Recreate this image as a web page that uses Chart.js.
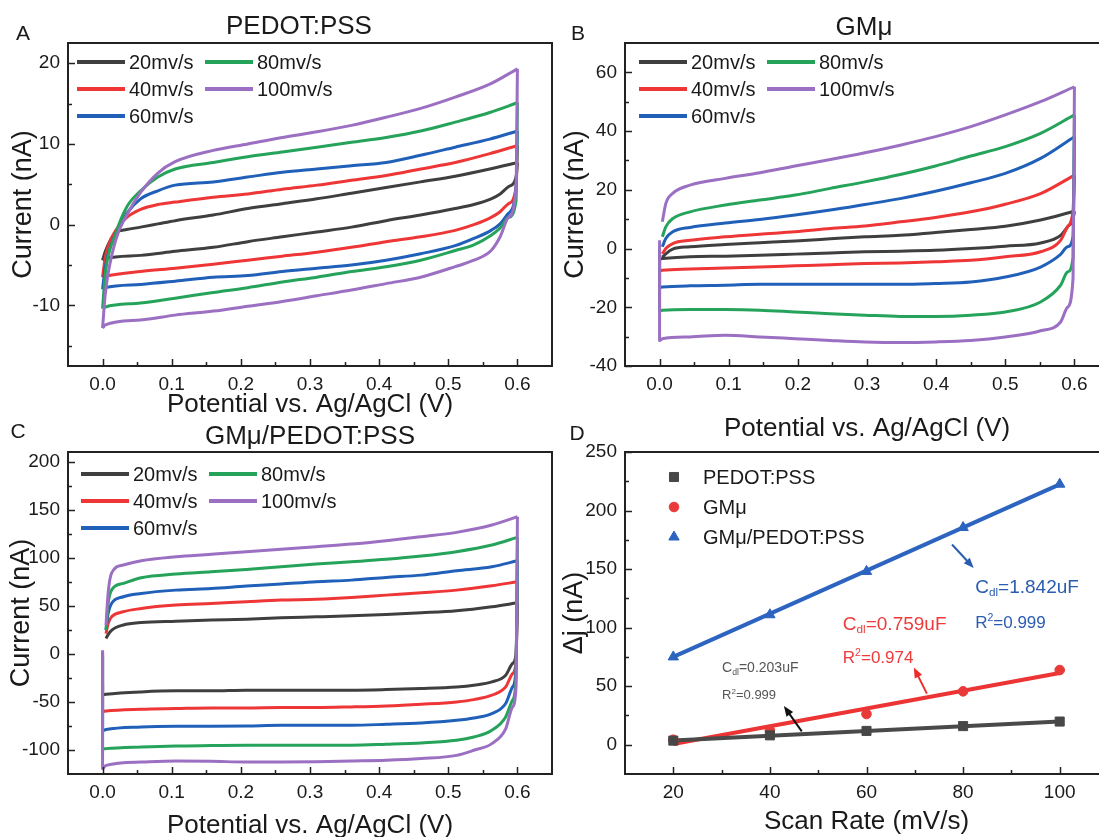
<!DOCTYPE html>
<html>
<head>
<meta charset="utf-8">
<script src="https://cdn.jsdelivr.net/npm/chart.js@4.4.1/dist/chart.umd.min.js"></script>
<style>
  html, body { margin: 0; padding: 0; background: #fff; width: 1099px; height: 837px; overflow: hidden; }
  body { position: relative; font-family: 'Liberation Sans', Arial, sans-serif; color: #1a1a1a; }
  canvas { position: absolute; }
  .t { position: absolute; transform: translate(-50%, -50%); line-height: 1; white-space: nowrap; }
</style>
</head>
<body>
<canvas id="cvA"></canvas>
<canvas id="cvB"></canvas>
<canvas id="cvC"></canvas>
<canvas id="cvD"></canvas>

<div class="t" style="left:23px;top:32px;font-size:21px">A</div>
<div class="t" style="left:578px;top:32px;font-size:21px">B</div>
<div class="t" style="left:18px;top:430px;font-size:21px">C</div>
<div class="t" style="left:577px;top:432px;font-size:21px">D</div>
<div class="t" style="left:299px;top:25px;font-size:26px">PEDOT:PSS</div>
<div class="t" style="left:864px;top:26px;font-size:26px">GMμ</div>
<div class="t" style="left:310px;top:435px;font-size:26px">GMμ/PEDOT:PSS</div>

<script>
const FONT = "'Liberation Sans', Arial, sans-serif";
const INK = '#1a1a1a';

// scan rates shared by the three CV panels
const rates = ['20mv/s', '40mv/s', '60mv/s', '80mv/s', '100mv/s'];
const cvColors = ['#3f3f3f', '#ee3636', '#2060b8', '#25a35a', '#9b6fc2'];

// A: PEDOT:PSS, forward (anodic) and reverse sweeps, current in nA
const pedotFwdV = [0, 0.004, 0.019, 0.035, 0.055, 0.08, 0.105, 0.16, 0.21, 0.26, 0.31, 0.36, 0.41, 0.46, 0.51, 0.56, 0.6];
const pedotFwd = [
  [-4.4, -3.3, -1.0, -0.6, -0.3, 0.1, 0.5, 1.2, 2.0, 2.6, 3.2, 3.9, 4.6, 5.3, 6.0, 6.9, 7.7],
  [-6.5, -4.0, -0.7, 0.9, 1.9, 2.5, 2.8, 3.4, 3.8, 4.4, 4.9, 5.5, 6.1, 6.9, 7.7, 8.8, 9.8],
  [-8.0, -5.2, -1.1, 1.4, 3.2, 4.2, 4.9, 5.3, 5.9, 6.5, 6.9, 7.3, 7.7, 8.6, 9.6, 10.6, 11.6],
  [-10.4, -6.0, -1.1, 2.2, 4.2, 5.9, 6.9, 7.7, 8.4, 9.0, 9.6, 10.2, 10.8, 11.6, 12.7, 13.9, 15.1],
  [-12.8, -8.5, -1.9, 1.2, 4.0, 6.4, 7.8, 9.2, 10.0, 10.8, 11.5, 12.3, 13.3, 14.4, 15.8, 17.4, 19.3]
];
const pedotRevV = [0.6, 0.598, 0.587, 0.575, 0.562, 0.537, 0.51, 0.46, 0.41, 0.36, 0.31, 0.26, 0.21, 0.16, 0.105, 0.055, 0.004, 0];
const pedotRev = [
  [7.7, 5.9, 4.7, 3.8, 3.2, 2.5, 2.0, 1.2, 0.5, -0.3, -0.9, -1.5, -2.1, -2.8, -3.3, -3.8, -4.2, -4.4],
  [9.8, 4.6, 2.6, 1.6, 0.9, 0.0, -0.7, -1.5, -2.1, -2.8, -3.4, -3.9, -4.4, -4.9, -5.4, -5.8, -6.4, -6.5],
  [11.6, 4.6, 1.4, 0.1, -0.7, -1.7, -2.6, -3.6, -4.4, -5.0, -5.4, -5.8, -6.3, -6.5, -7.0, -7.4, -7.8, -8.0],
  [15.1, 3.0, 0.9, -0.4, -1.3, -2.5, -3.2, -4.4, -5.2, -5.8, -6.5, -7.1, -7.8, -8.4, -9.1, -9.7, -10.2, -10.4],
  [19.3, 4.6, 0.9, -1.5, -3.2, -4.4, -5.2, -6.5, -7.3, -8.1, -8.8, -9.5, -10.1, -10.7, -11.2, -11.8, -12.4, -12.8]
];

// B: GMμ
const gmFwdV = [0.004, 0.009, 0.019, 0.044, 0.095, 0.145, 0.196, 0.247, 0.297, 0.348, 0.399, 0.45, 0.5, 0.551, 0.6];
const gmFwd = [
  [-3.0, -1.8, -0.2, 0.6, 1.4, 2.0, 2.6, 3.3, 4.0, 4.5, 5.5, 6.5, 7.6, 9.7, 12.7],
  [-1.8, 0.0, 1.7, 2.8, 4.0, 4.9, 5.7, 6.8, 7.7, 9.1, 10.6, 12.5, 15.1, 18.7, 25.0],
  [0.6, 3.4, 5.7, 7.2, 8.7, 9.9, 11.4, 13.1, 15.0, 17.0, 19.5, 22.4, 25.6, 30.7, 38.1],
  [4.0, 7.4, 10.2, 12.5, 14.8, 16.5, 18.2, 20.5, 22.7, 25.2, 28.1, 31.5, 34.7, 39.2, 45.5],
  [9.1, 15.3, 18.8, 21.6, 23.9, 25.8, 28.1, 30.3, 32.6, 35.2, 38.1, 41.5, 45.5, 50.0, 55.1]
];
const gmRevV = [0.6, 0.598, 0.59, 0.58, 0.551, 0.5, 0.45, 0.399, 0.348, 0.297, 0.247, 0.196, 0.145, 0.095, 0.044, 0.004, 0, 0];
const gmRev = [
  [12.7, 10.0, 7.4, 4.5, 1.9, 0.8, 0.0, -0.6, -0.9, -1.1, -1.5, -1.9, -2.3, -2.6, -2.8, -3.4, -3.5, -3.2],
  [25.0, 13.0, 7.4, 2.8, -1.1, -2.8, -4.0, -4.5, -4.9, -5.1, -5.5, -5.9, -6.3, -6.6, -7.0, -7.4, -7.5, -3.0],
  [38.1, 4.0, 0.6, -2.0, -6.3, -9.7, -11.4, -11.9, -12.2, -12.2, -12.2, -12.2, -12.2, -12.5, -12.7, -13.1, -13.2, -2.0],
  [45.5, -3.0, -8.0, -12.5, -18.2, -21.6, -22.7, -23.1, -23.1, -22.7, -22.2, -21.6, -21.0, -20.8, -20.8, -21.0, -21.2, 0.0],
  [55.1, -10.0, -20.0, -25.0, -28.0, -30.1, -31.3, -31.8, -32.0, -31.8, -31.3, -30.7, -30.1, -29.5, -30.1, -30.7, -31.3, 2.8]
];

// C: GMμ/PEDOT:PSS
const hybFwdV = [0.005, 0.008, 0.013, 0.03, 0.056, 0.106, 0.157, 0.208, 0.258, 0.309, 0.36, 0.41, 0.461, 0.512, 0.563, 0.6];
const hybFwd = [
  [16, 20, 24.5, 30.0, 32.6, 34, 35.1, 36.1, 37.5, 38.5, 39.6, 41, 42.7, 44.8, 49, 53.1],
  [21, 31.6, 38.5, 43.8, 47.2, 50.7, 52.4, 54.2, 55.9, 56.9, 58.7, 61.1, 63.5, 66.3, 70.8, 75],
  [25, 42, 52.4, 59.4, 62.8, 66.3, 68, 70.5, 72.6, 75, 76.7, 79.5, 81.9, 86.5, 90.6, 96.9],
  [25, 52.4, 66.3, 73.3, 79.2, 83, 85.4, 87.8, 90.6, 93.4, 95.8, 98.3, 101.7, 106.3, 113.2, 121.2],
  [30, 62.8, 84, 92.4, 96.9, 101, 103.5, 106.3, 108.7, 111.5, 114.2, 117.7, 121.9, 126.4, 134, 142.7]
];
const hybRevV = [0.6, 0.598, 0.593, 0.583, 0.563, 0.537, 0.512, 0.461, 0.41, 0.36, 0.309, 0.258, 0.208, 0.157, 0.106, 0.056, 0.005, 0, 0];
const hybRev = [
  [53.1, 0, -10, -22.2, -29.2, -32.6, -34.4, -36.1, -37.2, -37.8, -37.8, -37.8, -37.8, -38.5, -38.5, -39.6, -42, -42.5, -30],
  [75, -8, -20.5, -34.4, -43, -47.6, -50, -52.4, -54.2, -55.2, -55.9, -55.9, -56.3, -56.3, -56.9, -57.6, -59.4, -60, 2],
  [96.9, -15, -34.4, -51.7, -62.2, -66.7, -69.1, -71.9, -73.3, -74.3, -74.3, -74.3, -75, -75.3, -75.3, -76, -78.8, -80, -2],
  [121.2, -25, -48, -65.6, -79.5, -86.5, -90, -92.7, -94.1, -95.1, -95.1, -95.1, -95.1, -95.4, -95.8, -96.9, -98.6, -99, 0],
  [142.7, -34, -55, -78, -93.4, -100.3, -105.6, -109, -110.8, -111.5, -112.2, -112.5, -112.5, -111.8, -111.5, -112.5, -116, -119.4, 3.8]
];

// D: current difference vs scan rate, with linear fits
const scanRates = [20, 40, 60, 80, 100];
const djPedot = [3.5, 8.0, 11.8, 15.9, 19.8];
const djGm = [4.3, 12.3, 26.2, 45.6, 63.8];
const djHybrid = [75, 111, 148, 185.5, 222.5];
const fitNames = ['PEDOT:PSS', 'GMμ', 'GMμ/PEDOT:PSS'];
const cdl = [0.203, 0.759, 1.842];        // fitted slope, nA per mV/s
const fitIntercept = [-0.5, -14.6, 38.2];
const rSquared = [0.999, 0.974, 0.999];

// ---- helpers ----
const sweep = (vs, is) => vs.map((v, k) => ({x: v, y: is[k]}));

// canvas sized so the plot box lands at the given page position
function place(canvas, box) {
  const left = box.left - 68, top = box.top - 43;
  const width = box.right + 8 - left;
  const height = Math.round(box.xTitleY + 15.6 - top);
  canvas.width = width; canvas.height = height;
  Object.assign(canvas.style, {left: left + 'px', top: top + 'px', width: width + 'px', height: height + 'px'});
  return {left, top, width, height, xAxisH: height - (box.bottom - top), yPad: box.yTitleX - left - 16.2};
}

function axis(min, max, step, major, fmt, title, fit, pad) {
  const near = (a, b) => Math.abs(a - b) < 1e-6;
  const isMajor = v => near(v / major, Math.round(v / major));
  return {
    type: 'linear', min, max,
    grid: {display: false, drawTicks: false},
    border: {display: false},
    // ticks on every multiple of the step, regardless of where the bounds fall
    afterBuildTicks(s) {
      const out = [];
      for (let k = Math.ceil(min / step - 1e-9); k * step <= max + 1e-9; k++) out.push({value: +(k * step).toFixed(6)});
      s.ticks = out;
    },
    ticks: {
      autoSkip: false, maxRotation: 0, color: INK, padding: pad,
      font: {family: FONT, size: 19},
      callback(v) {
        if (isMajor(v)) return fmt(v);
        if (near(v, min) || near(v, max)) return null;
        return '';
      }
    },
    title: Object.assign({display: true, color: INK, font: {family: FONT, size: 26}}, title),
    afterFit: fit
  };
}

// closed box and inward ticks (long for labelled, short for minor)
const frame = {
  id: 'frame',
  afterDraw(chart) {
    const {ctx, chartArea: a, scales: {x, y}} = chart;
    ctx.save();
    ctx.strokeStyle = '#222';
    ctx.lineWidth = 1.5;
    ctx.beginPath();
    x.ticks.forEach(t => {
      if (t.label === null) return;
      const p = Math.round(x.getPixelForValue(t.value)) + 0.5;
      ctx.moveTo(p, a.bottom); ctx.lineTo(p, a.bottom - (t.label ? 7 : 4));
    });
    y.ticks.forEach(t => {
      if (t.label === null) return;
      const p = Math.round(y.getPixelForValue(t.value)) + 0.5;
      ctx.moveTo(a.left, p); ctx.lineTo(a.left + (t.label ? 7 : 4), p);
    });
    ctx.stroke();
    ctx.lineWidth = 2;
    ctx.strokeRect(a.left, a.top, a.right - a.left, a.bottom - a.top);
    ctx.restore();
  }
};

// two-column line legend inside the plot
const cvLegend = {
  id: 'cvLegend',
  afterDraw(chart, args, opts) {
    const {ctx, chartArea: a} = chart;
    ctx.save();
    ctx.font = '20px ' + FONT;
    ctx.textBaseline = 'middle';
    rates.forEach((r, i) => {
      const x = a.left + opts.x + Math.floor(i / 3) * 128;
      const y = a.top + opts.y + (i % 3) * 27;
      ctx.strokeStyle = cvColors[i];
      ctx.lineWidth = 4;
      ctx.beginPath(); ctx.moveTo(x, y); ctx.lineTo(x + 48, y); ctx.stroke();
      ctx.fillStyle = INK;
      ctx.fillText(r, x + 52, y + 1);
    });
    ctx.restore();
  }
};

function cvPanel(id, box, fwdV, fwd, revV, rev, yMin, yMax, yStep, yMajor, legend) {
  const cv = document.getElementById(id);
  const g = place(cv, box);
  const line = (label, data, i) => ({
    label, data,
    borderColor: cvColors[i],
    borderWidth: 3,
    pointRadius: 0,
    cubicInterpolationMode: 'monotone',
    borderJoinStyle: 'round',
    order: rates.length - i
  });
  return new Chart(cv, {
    type: 'line',
    data: {
      datasets: rates.flatMap((r, i) => [
        line(r + ' forward', sweep(fwdV, fwd[i]), i),
        line(r + ' reverse', sweep(revV, rev[i]), i)
      ])
    },
    options: {
      responsive: false, animation: false, devicePixelRatio: 1,
      layout: {padding: {top: 43, right: 8, left: 0, bottom: 0}},
      scales: {
        x: axis(-0.05, 0.65, 0.05, 0.1, v => v.toFixed(1),
          {text: 'Potential vs. Ag/AgCl (V)', padding: {top: 0, bottom: 0}},
          s => { s.height = g.xAxisH; }, 7),
        y: axis(yMin, yMax, yStep, yMajor, v => String(Math.round(v)),
          {text: 'Current (nA)', font: {family: FONT, size: 27}, padding: {top: g.yPad, bottom: 0}},
          s => { s.width = 68; }, 8)
      },
      plugins: {legend: {display: false}, tooltip: {enabled: false}, cvLegend: legend}
    },
    plugins: [frame, cvLegend]
  });
}

const boxA = {left: 68, top: 43, right: 552, bottom: 366, xTitleY: 404, yTitleX: 23.5};
const boxB = {left: 625, top: 43, right: 1109, bottom: 366, xTitleY: 428, yTitleX: 575.5};
const boxC = {left: 68, top: 452, right: 552, bottom: 774, xTitleY: 825, yTitleX: 22};
const boxD = {left: 625, top: 452, right: 1108, bottom: 774, xTitleY: 821, yTitleX: 575};

cvPanel('cvA', boxA, pedotFwdV, pedotFwd, pedotRevV, pedotRev, -17.5, 22.5, 5, 10, {x: 9, y: 19});
cvPanel('cvB', boxB, gmFwdV, gmFwd, gmRevV, gmRev, -40, 70, 10, 20, {x: 14, y: 19});
cvPanel('cvC', boxC, hybFwdV, hybFwd, hybRevV, hybRev, -125, 210, 25, 50, {x: 13, y: 22});

// ---- D: scan-rate dependence ----
const markerStyles = [
  {pointStyle: 'rect', radius: 6.4, color: '#474747'},
  {pointStyle: 'circle', radius: 4.8, color: '#e93a3a'},
  {pointStyle: 'triangle', radius: 6, color: '#2c64bf'}
];
const fitColors = ['#4a4a4a', '#ec3434', '#2c64bf'];
const djSeries = [djPedot, djGm, djHybrid];

const scatterLegend = {
  id: 'scatterLegend',
  afterDraw(chart, args, opts) {
    const {ctx, chartArea: a} = chart;
    ctx.save();
    ctx.font = '20px ' + FONT;
    ctx.textBaseline = 'middle';
    fitNames.forEach((name, i) => {
      const m = markerStyles[i];
      const y = a.top + opts.y + i * 30;
      ctx.fillStyle = m.color; ctx.strokeStyle = m.color;
      Chart.helpers.drawPoint(ctx, {pointStyle: m.pointStyle, radius: m.radius, rotation: 0, borderWidth: 1}, a.left + opts.x, y);
      ctx.fillStyle = INK;
      ctx.fillText(name, a.left + opts.x + 29, y + 1);
    });
    ctx.restore();
  }
};

const cdlText = v => [{t: 'C'}, {t: 'dl', small: true, dy: 0.28}, {t: '=' + v.toFixed(3) + 'uF'}];
const r2Text = v => [{t: 'R'}, {t: '2', small: true, dy: -0.3}, {t: '=' + v.toFixed(3)}];

const fitNotes = {
  id: 'fitNotes',
  afterDatasetsDraw(chart, args, opts) {
    const {ctx, scales: {x, y}} = chart;
    ctx.save();
    ctx.textBaseline = 'middle';
    opts.texts.forEach(n => {
      let px = x.getPixelForValue(n.at[0]);
      const py = y.getPixelForValue(n.at[1]);
      ctx.fillStyle = n.color;
      n.parts.forEach(p => {
        const size = n.size * (p.small ? 0.62 : 1);
        ctx.font = size + 'px ' + FONT;
        ctx.fillText(p.t, px, py + (p.dy || 0) * n.size);
        px += ctx.measureText(p.t).width;
      });
    });
    opts.arrows.forEach(ar => {
      const x1 = x.getPixelForValue(ar.from[0]), y1 = y.getPixelForValue(ar.from[1]);
      const x2 = x.getPixelForValue(ar.to[0]), y2 = y.getPixelForValue(ar.to[1]);
      const ang = Math.atan2(y2 - y1, x2 - x1), head = 11;
      ctx.strokeStyle = ctx.fillStyle = ar.color;
      ctx.lineWidth = 2;
      ctx.beginPath();
      ctx.moveTo(x1, y1);
      ctx.lineTo(x2 - Math.cos(ang) * head * 0.7, y2 - Math.sin(ang) * head * 0.7);
      ctx.stroke();
      ctx.beginPath();
      ctx.moveTo(x2, y2);
      ctx.lineTo(x2 - head * Math.cos(ang - 0.38), y2 - head * Math.sin(ang - 0.38));
      ctx.lineTo(x2 - head * Math.cos(ang + 0.38), y2 - head * Math.sin(ang + 0.38));
      ctx.closePath();
      ctx.fill();
    });
    ctx.restore();
  }
};

(function () {
  const cv = document.getElementById('cvD');
  const g = place(cv, boxD);
  const first = scanRates[0], last = scanRates[scanRates.length - 1];
  const points = djSeries.map((s, i) => ({
    label: fitNames[i],
    data: scanRates.map((r, k) => ({x: r, y: s[k]})),
    showLine: false,
    pointStyle: markerStyles[i].pointStyle,
    pointRadius: markerStyles[i].radius,
    pointBackgroundColor: markerStyles[i].color,
    pointBorderColor: markerStyles[i].color,
    pointBorderWidth: 1
  }));
  const fits = cdl.map((k, i) => ({
    label: fitNames[i] + ' fit',
    data: [{x: first, y: k * first + fitIntercept[i]}, {x: last, y: k * last + fitIntercept[i]}],
    borderColor: fitColors[i],
    borderWidth: 4,
    pointRadius: 0
  }));
  new Chart(cv, {
    type: 'line',
    data: {datasets: points.concat(fits)},
    options: {
      responsive: false, animation: false, devicePixelRatio: 1,
      layout: {padding: {top: 43, right: 8, left: 0, bottom: 0}},
      scales: {
        x: axis(10, 110, 10, 20, v => String(Math.round(v)),
          {text: 'Scan Rate (mV/s)', padding: {top: 0, bottom: 0}},
          s => { s.height = g.xAxisH; }, 7),
        y: axis(-25, 250, 25, 50, v => String(Math.round(v)),
          {text: 'Δj (nA)', font: {family: FONT, size: 27}, padding: {top: g.yPad, bottom: 0}},
          s => { s.width = 68; }, 8)
      },
      plugins: {
        legend: {display: false}, tooltip: {enabled: false},
        scatterLegend: {x: 49, y: 25},
        fitNotes: {
          texts: [
            {at: [82.5, 134], size: 19, color: '#2a5cb0', parts: cdlText(cdl[2])},
            {at: [82.5, 104], size: 17, color: '#2a5cb0', parts: r2Text(rSquared[2])},
            {at: [55.1, 102.6], size: 19, color: '#ee3a3a', parts: cdlText(cdl[1])},
            {at: [55.1, 73.5], size: 17, color: '#ee3a3a', parts: r2Text(rSquared[1])},
            {at: [30.1, 65], size: 14, color: '#555', parts: cdlText(cdl[0])},
            {at: [30.1, 42], size: 13, color: '#555', parts: r2Text(rSquared[0])}
          ],
          arrows: [
            {from: [77.7, 171], to: [82.2, 151], color: '#2a5cb0'},
            {from: [72.5, 43.6], to: [69.8, 66], color: '#ee2a2a'},
            {from: [46.6, 11.4], to: [42.9, 33], color: '#111'}
          ]
        }
      }
    },
    plugins: [frame, scatterLegend, fitNotes]
  });
})();
</script>
</body>
</html>
